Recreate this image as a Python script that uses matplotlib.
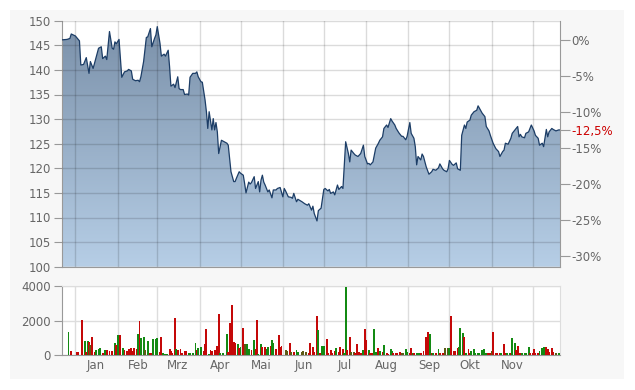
import matplotlib

matplotlib.use("Agg")

import matplotlib.dates as mdates
import matplotlib.pyplot as plt
import numpy as np
import pandas as pd
from matplotlib.colors import LinearSegmentedColormap
from matplotlib.patches import Rectangle
from matplotlib.ticker import FuncFormatter

START = pd.Timestamp("2024-01-01")

# closing prices, day offsets counted from 1 Jan
price_day = [
    -10, -6, -4, -3, 0, 3, 4, 6, 8, 10, 11, 13, 14, 17, 19, 20, 22, 23, 25, 27,
    28, 29, 30, 32, 34, 36, 38, 39, 41, 42, 44, 46, 47, 48, 50, 52, 53, 55, 56, 58,
    59, 60, 62, 63, 65, 66, 68, 69, 70, 72, 73, 75, 76, 77, 79, 80, 82, 83, 84, 86,
    88, 89, 90, 92, 93, 95, 96, 97, 98, 100, 101, 102, 103, 104, 105, 107, 109, 111, 112, 114,
    116, 117, 118, 120, 121, 123, 124, 125, 127, 128, 129, 131, 132, 134, 135, 136, 137, 138, 139, 141,
    142, 144, 145, 147, 148, 150, 152, 153, 154, 156, 158, 159, 160, 162, 163, 166, 168, 170, 171, 173,
    174, 175, 177, 178, 180, 182, 183, 185, 186, 187, 189, 190, 192, 193, 195, 196, 198, 200, 201, 202,
    204, 205, 207, 209, 211, 212, 214, 215, 216, 218, 220, 222, 223, 225, 226, 228, 229, 231, 232, 234,
    235, 237, 239, 240, 242, 243, 245, 246, 248, 249, 250, 251, 253, 254, 255, 257, 259, 261, 262, 264,
    266, 267, 269, 270, 272, 273, 274, 276, 277, 279, 280, 282, 283, 285, 286, 287, 289, 290, 292, 294,
    295, 296, 298, 300, 301, 303, 304, 306, 308, 310, 311, 313, 314, 315, 317, 319, 320, 322, 324, 325,
    326, 327, 329, 330, 332, 333, 334, 336, 337, 339, 340, 342, 343, 345, 346, 347, 349, 350, 352, 354,
    355,
]
close = [
    146.1, 146.2, 146.4, 147.3, 146.9, 145.9, 141.0, 141.1, 142.5, 139.3, 141.7, 140.3, 141.3, 144.4, 144.7, 142.3, 142.8, 142.1, 147.8, 144.4,
    144.2, 145.7, 145.3, 146.2, 138.5, 139.6, 139.8, 140.1, 139.8, 138.1, 137.8, 137.9, 137.6, 138.6, 141.7, 146.6, 146.7, 148.4, 144.7, 146.4,
    147.1, 148.8, 145.4, 142.8, 143.2, 142.8, 144.0, 140.7, 136.7, 137.1, 136.4, 138.6, 136.2, 136.0, 136.0, 135.0, 135.1, 134.9, 138.5, 139.3,
    139.3, 139.6, 138.6, 137.6, 137.5, 133.9, 131.5, 128.1, 131.5, 127.8, 130.1, 127.8, 129.3, 127.4, 123.0, 125.7, 125.4, 125.1, 124.7, 119.3,
    117.3, 117.3, 118.0, 119.3, 119.0, 118.6, 116.9, 115.0, 117.2, 116.8, 117.1, 118.3, 115.9, 117.3, 115.2, 117.6, 118.6, 117.2, 116.6, 115.2,
    115.6, 114.0, 115.6, 115.6, 115.9, 116.1, 114.2, 115.9, 115.4, 114.2, 114.1, 113.9, 114.9, 113.2, 113.7, 113.2, 112.8, 112.5, 112.8, 111.5,
    112.3, 110.8, 109.3, 111.4, 111.9, 115.7, 115.9, 115.4, 115.7, 114.9, 115.2, 114.6, 116.6, 115.7, 116.3, 115.9, 125.4, 123.0, 121.3, 123.7,
    123.0, 122.7, 122.4, 123.0, 124.7, 122.4, 120.9, 121.0, 120.7, 121.3, 124.1, 125.1, 125.7, 126.4, 128.1, 128.8, 128.3, 130.1, 129.6, 128.8,
    128.1, 127.2, 126.5, 126.5, 125.8, 126.5, 129.3, 127.1, 126.1, 124.4, 120.7, 122.4, 121.7, 122.9, 122.4, 120.3, 118.8, 119.3, 119.8, 119.6,
    120.1, 120.9, 119.9, 119.6, 119.3, 119.9, 121.6, 120.8, 120.6, 121.1, 119.9, 119.6, 126.7, 128.8, 128.1, 129.4, 129.8, 130.8, 131.5, 131.8,
    132.7, 132.2, 131.2, 130.5, 128.5, 127.6, 126.7, 125.1, 124.0, 123.4, 122.4, 123.4, 123.7, 125.1, 124.9, 126.1, 127.1, 127.8, 128.5, 126.4,
    126.9, 126.4, 126.2, 127.1, 127.4, 128.1, 128.8, 127.6, 126.7, 126.1, 124.7, 125.1, 124.4, 127.9, 126.4, 127.4, 128.1, 127.9, 127.6, 127.8,
    127.8,
]

# daily volume; g = up day, r = down day, o = mixed
vol_day = [
    -5, -3, 1, 2, 5, 7, 8, 9, 10, 11, 12, 14, 15, 17, 18, 20, 22, 23, 25, 27,
    29, 30, 31, 33, 35, 36, 38, 39, 41, 42, 43, 45, 46, 47, 48, 50, 51, 53, 55, 56,
    57, 59, 60, 62, 63, 64, 66, 67, 69, 70, 71, 73, 74, 75, 77, 78, 80, 81, 83, 84,
    86, 88, 89, 90, 92, 94, 95, 96, 98, 99, 100, 102, 104, 105, 106, 108, 111, 112, 113, 115,
    116, 117, 119, 120, 121, 123, 124, 126, 127, 129, 131, 132, 133, 134, 136, 137, 139, 140, 141, 143,
    144, 145, 147, 149, 150, 151, 154, 155, 157, 158, 160, 162, 163,
    166, 167, 169, 171, 172, 174, 175, 177, 178, 179, 181, 182, 184, 185, 187, 188, 190, 191, 193, 194,
    196, 197, 198, 199, 201, 202, 204, 205, 206, 208, 209, 211, 212, 213, 215, 216, 217, 219, 220, 222,
    223, 225, 226, 228, 229, 231, 232, 233, 235, 236, 238, 239, 240, 242, 243, 245, 246, 247, 248, 250,
    252, 253, 255, 257, 258, 260, 261, 262, 264, 266, 267, 269, 270, 271, 273, 274, 275, 277, 278, 280,
    281, 282, 284, 285, 286, 288, 289, 290, 292, 293, 295, 296, 298, 299, 301, 302, 304, 305, 306, 308,
    309, 311, 312, 314, 315, 316, 318, 319, 320, 322, 323, 324, 326, 327, 329, 330, 332, 333, 335, 336,
    337, 339, 340, 342, 343, 345, 346, 347, 349, 350, 352, 354,
]
volume = [
    1330, 230, 170, 170, 2030, 830, 170, 810, 770, 580, 1060, 190, 290, 370, 400, 135, 290, 290, 250, 230,
    680, 580, 1180, 1180, 390, 290, 210, 330, 400, 230, 400, 330, 1220, 1970, 965, 1060, 290, 830, 135, 100,
    930, 930, 985, 190, 1060, 100, 60, 80, 330, 230, 100, 2140, 330, 290, 330, 100, 230, 210, 100, 100,
    100, 680, 290, 400, 440, 230, 640, 1490, 60, 290, 250, 290, 520, 2370, 100, 100, 1200, 190, 1870, 2890,
    770, 720, 640, 420, 440, 1540, 640, 640, 350, 290, 870, 330, 2030, 60, 640, 480, 480, 330, 440, 520,
    870, 680, 330, 1140, 440, 520, 290, 230, 720, 190, 190, 290, 190,
    190, 230, 170, 135, 720, 440, 190, 2270, 1450, 100, 520, 520, 930, 135, 290, 135, 230, 400, 190, 440,
    370, 135, 3960, 290, 1020, 170, 150, 135, 640, 190, 135, 290, 1490, 870, 290, 135, 100, 1490, 190, 390,
    230, 170, 580, 100, 60, 330, 250, 135, 135, 100, 170, 135, 135, 330, 190, 100, 390, 135, 135, 100,
    100, 100, 250, 1060, 1330, 1220, 135, 100, 100, 330, 100, 135, 135, 390, 390, 390, 2270, 250, 250, 390,
    480, 1540, 1290, 1060, 135, 330, 135, 210, 330, 100, 100, 100, 290, 330, 135, 100, 100, 230, 1330, 100,
    100, 100, 100, 640, 100, 100, 100, 100, 965, 720, 290, 520, 100, 100, 100, 100, 460, 100, 100, 350,
    100, 100, 250, 390, 480, 440, 370, 190, 390, 170, 100, 100,
]
vol_dir = (
    "grrrrgrgrorrgggrgrrrgrgrgrrrrrrrgrggogrrgggrrgggrrrrgrrrrrgg"
    "ggrggrrrgrrrrrgggrrrrrgrgroggrgrrggrrggrggrrrrooro" "rgg"
    "ooorrrrrgrggrrrrrgrrrggrroorrrrgrrgrrggrgrgrrggrrrrooggrrgrg"
    "grrrrgrgrgrrroogrrrrgggrgrrggggggggrrorrrrgrrggrggrrrggggrrr"
    "rrgggrrrrrog"
)

month_labels = ["Jan", "Feb", "Mrz", "Apr", "Mai", "Jun", "Jul", "Aug", "Sep", "Okt", "Nov"]
price_ticks = list(range(100, 151, 5))
pct_ticks = [0, -5, -10, -15, -20, -25, -30]
vol_ticks = [0, 2000, 4000]

assert len(price_day) == len(close)
assert len(vol_day) == len(volume) == len(vol_dir)

dates = START + pd.to_timedelta(price_day, unit="D")
vdates = START + pd.to_timedelta(vol_day, unit="D")
dir_colors = {"g": "#138a13", "r": "#c40808", "o": "#5e5a14"}

W, H = 635, 390
fig = plt.figure(figsize=(W / 100, H / 100), dpi=100)
fig.patches.append(Rectangle((10 / W, 11 / H), 614 / W, 369 / H, transform=fig.transFigure,
                             facecolor="#f7f7f7", edgecolor="none", zorder=-5))

ax = fig.add_axes([61.7 / W, 1 - 266.7 / H, 498.3 / W, 246 / H])
axv = fig.add_axes([61.7 / W, 1 - 355 / H, 498.3 / W, 69 / H], sharex=ax)

label_color = "#666666"
spine_color = "#999999"

# price panel
ax.set_facecolor("white")
ax.plot(dates, close, color="#1c3d66", linewidth=0.9, zorder=4)
poly = ax.fill_between(dates, close, 100, facecolor="none", edgecolor="none")
x0, x1 = mdates.date2num(dates[0]), mdates.date2num(dates[-1])
cmap = LinearSegmentedColormap.from_list("fade", ["#b6cee6", "#7a90a9"])
img = ax.imshow(np.linspace(1, 0, 256).reshape(-1, 1), extent=[x0, x1, 100, 150],
                aspect="auto", cmap=cmap, origin="upper", zorder=1, interpolation="bilinear")
img.set_clip_path(poly.get_paths()[0], transform=ax.transData)
ax.set_xlim(dates[0], dates[-1])
ax.set_ylim(100, 150)
ax.set_yticks(price_ticks)
ax.set_axisbelow(False)
ax.grid(True, which="major", color="black", alpha=0.14, linewidth=1)
ax.tick_params(axis="y", length=6, color=spine_color, labelcolor=label_color, labelsize=8.5, pad=2)
ax.tick_params(axis="x", which="both", length=0, labelbottom=False)
for side in ("top", "right"):
    ax.spines[side].set_visible(False)
for side in ("left", "bottom"):
    ax.spines[side].set_color(spine_color)

# percent scale on the right
base = close[0]
last_pct = (close[-1] / base - 1) * 100
ax2 = ax.twinx()
ax2.set_ylim((100 / base - 1) * 100, (150 / base - 1) * 100)
ax2.set_yticks(pct_ticks + [last_pct])
ax2.set_yticklabels([f"{t:g}%" for t in pct_ticks] + [f"{last_pct:.1f}%".replace(".", ",")])
ax2.tick_params(axis="y", length=7, color=spine_color, labelcolor=label_color, labelsize=8.5, pad=1)
ax2.get_yticklabels()[-1].set_color("#cc0000")
ax2.yaxis.get_major_ticks()[-1].tick2line.set_color("#cc0000")
for side in ("top", "left", "bottom"):
    ax2.spines[side].set_visible(False)
ax2.spines["right"].set_color(spine_color)

# volume panel
axv.set_facecolor("white")
axv.bar(vdates, volume, width=1.4, color=[dir_colors[c] for c in vol_dir], linewidth=0, zorder=3)
axv.set_ylim(0, 4000)
axv.set_yticks(vol_ticks)
axv.grid(True, which="major", color="#dddddd", linewidth=1, zorder=0)
axv.set_axisbelow(True)
axv.xaxis.set_major_locator(mdates.MonthLocator())
axv.xaxis.set_minor_locator(mdates.MonthLocator(bymonthday=16))
axv.xaxis.set_major_formatter(FuncFormatter(lambda v, p: ""))
axv.xaxis.set_minor_formatter(FuncFormatter(
    lambda v, p: month_labels[mdates.num2date(v).month - 1]
    if mdates.num2date(v).month <= len(month_labels) and mdates.num2date(v).year == 2024 else ""))
axv.tick_params(axis="x", which="both", length=0, labelcolor=label_color, labelsize=8.5, pad=3)
axv.tick_params(axis="x", which="major", labelbottom=False)
axv.tick_params(axis="y", length=6, color=spine_color, labelcolor=label_color, labelsize=8.5, pad=2)
for side in ("top", "right"):
    axv.spines[side].set_color("#dddddd")
for side in ("left", "bottom"):
    axv.spines[side].set_color(spine_color)
ax.set_xlim(dates[0], dates[-1])

fig.savefig("out.png", dpi=100, facecolor="white")
